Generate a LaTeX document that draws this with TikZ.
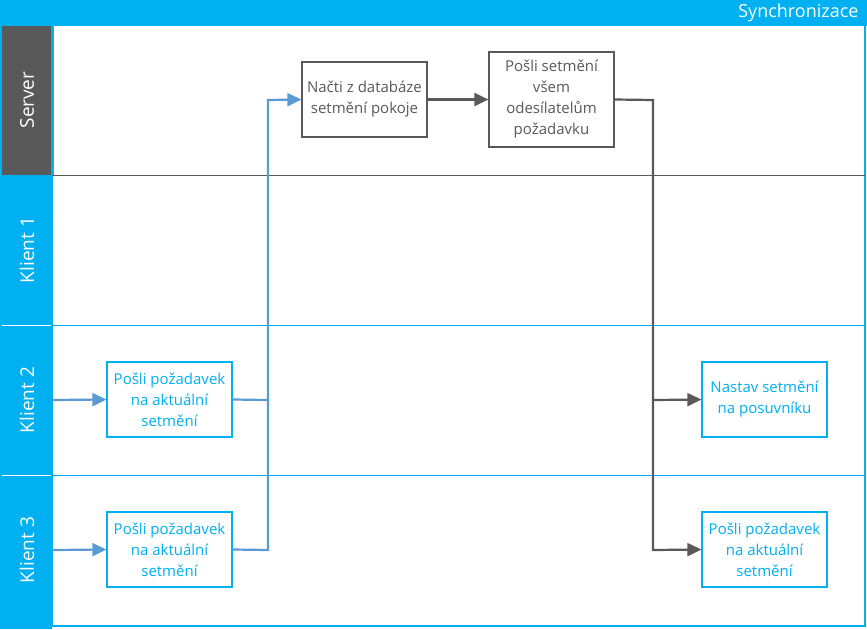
\documentclass[tikz,border=0pt]{standalone}
\usepackage{fontspec}
\setmainfont{Open Sans}
\usetikzlibrary{arrows.meta}
\definecolor{cyanh}{HTML}{00B0F0}
\definecolor{dgray}{HTML}{595959}
\definecolor{bluea}{HTML}{5B9BD5}
\tikzset{
  lanelabel/.style={text=white, font=\fontsize{19}{22}\selectfont, rotate=90},
  srvbox/.style={draw=dgray, line width=1.2pt, fill=white, text=dgray, align=center, minimum width=125pt, font=\fontsize{15}{21}\selectfont, inner sep=1pt},
  clibox/.style={draw=cyanh, line width=1.2pt, fill=white, text=cyanh, align=center, minimum width=125pt, minimum height=75pt, font=\fontsize{15}{21}\selectfont, inner sep=1pt},
  barrow/.style={draw=bluea, line width=2.2pt, -{Triangle[length=14pt,width=13pt]}},
  bline/.style={draw=bluea, line width=2.2pt},
  garrow/.style={draw=dgray, line width=2.2pt, -{Triangle[length=14pt,width=13pt]}},
  gline/.style={draw=dgray, line width=2.2pt},
}
\begin{document}
\begin{tikzpicture}[x=1pt,y=-1pt]
\useasboundingbox (0,0) rectangle (867,629);
% title
\fill[cyanh] (0,0) rectangle (867,26);
\node[anchor=east, text=white, font=\fontsize{18}{20}\selectfont] (title) at (862,13) {Synchronizace};
% lane headers
\fill[dgray] (2,26) rectangle (52,175);
\fill[cyanh] (2,175) rectangle (52,625);
\fill[cyanh] (0,26) rectangle (2,629);
\fill[cyanh] (52,26) rectangle (54,175);
\draw[white, line width=0.5pt] (2,325) -- (52,325) (2,475) -- (52,475);
\node[lanelabel] (l0) at (27,100) {Server};
\node[lanelabel] (l1) at (27,250) {Klient 1};
\node[lanelabel] (l2) at (27,400) {Klient 2};
\node[lanelabel] (l3) at (27,550) {Klient 3};
% lane borders
\draw[cyanh, line width=1.5pt] (52,26) -- (52,626) -- (865,626) -- (865,26);
\draw[dgray, line width=1pt] (52,175) -- (865,175);
\draw[cyanh, line width=1pt] (52,325) -- (865,325) (52,475) -- (865,475);
\fill[cyanh] (0,625) rectangle (52,629);
% boxes
\node[srvbox, minimum height=75pt] (nacti) at (364.5,99.5) {Načti z databáze\\setmění pokoje};
\node[srvbox, minimum height=95pt] (posli) at (551.5,99.5) {Pošli setmění\\všem\\odesílatelům\\požadavku};
\node[clibox] (k2) at (169.5,399.5) {Pošli požadavek\\na aktuální\\setmění};
\node[clibox] (k3) at (169.5,549.5) {Pošli požadavek\\na aktuální\\setmění};
\node[clibox] (r2) at (764.5,399.5) {Nastav setmění\\na posuvníku};
\node[clibox] (r3) at (764.5,549.5) {Pošli požadavek\\na aktuální\\setmění};
% connectors
\coordinate (s2) at (52,400);
\coordinate (s3) at (52,550);
\draw[barrow] (s2) -- (k2.west);
\draw[barrow] (s3) -- (k3.west);
\draw[bline] (k3.east) -- (268,550) -- (268,400);
\draw[barrow] (k2.east) -- (268,400) -- (268,100) -- (nacti.west);
\draw[garrow] (nacti.east) -- (posli.west);
\draw[gline] (posli.east) -- (653,100) -- (653,400);
\draw[garrow] (653,400) -- (r2.west);
\draw[garrow] (653,399) -- (653,550) -- (r3.west);
\end{tikzpicture}
\end{document}
